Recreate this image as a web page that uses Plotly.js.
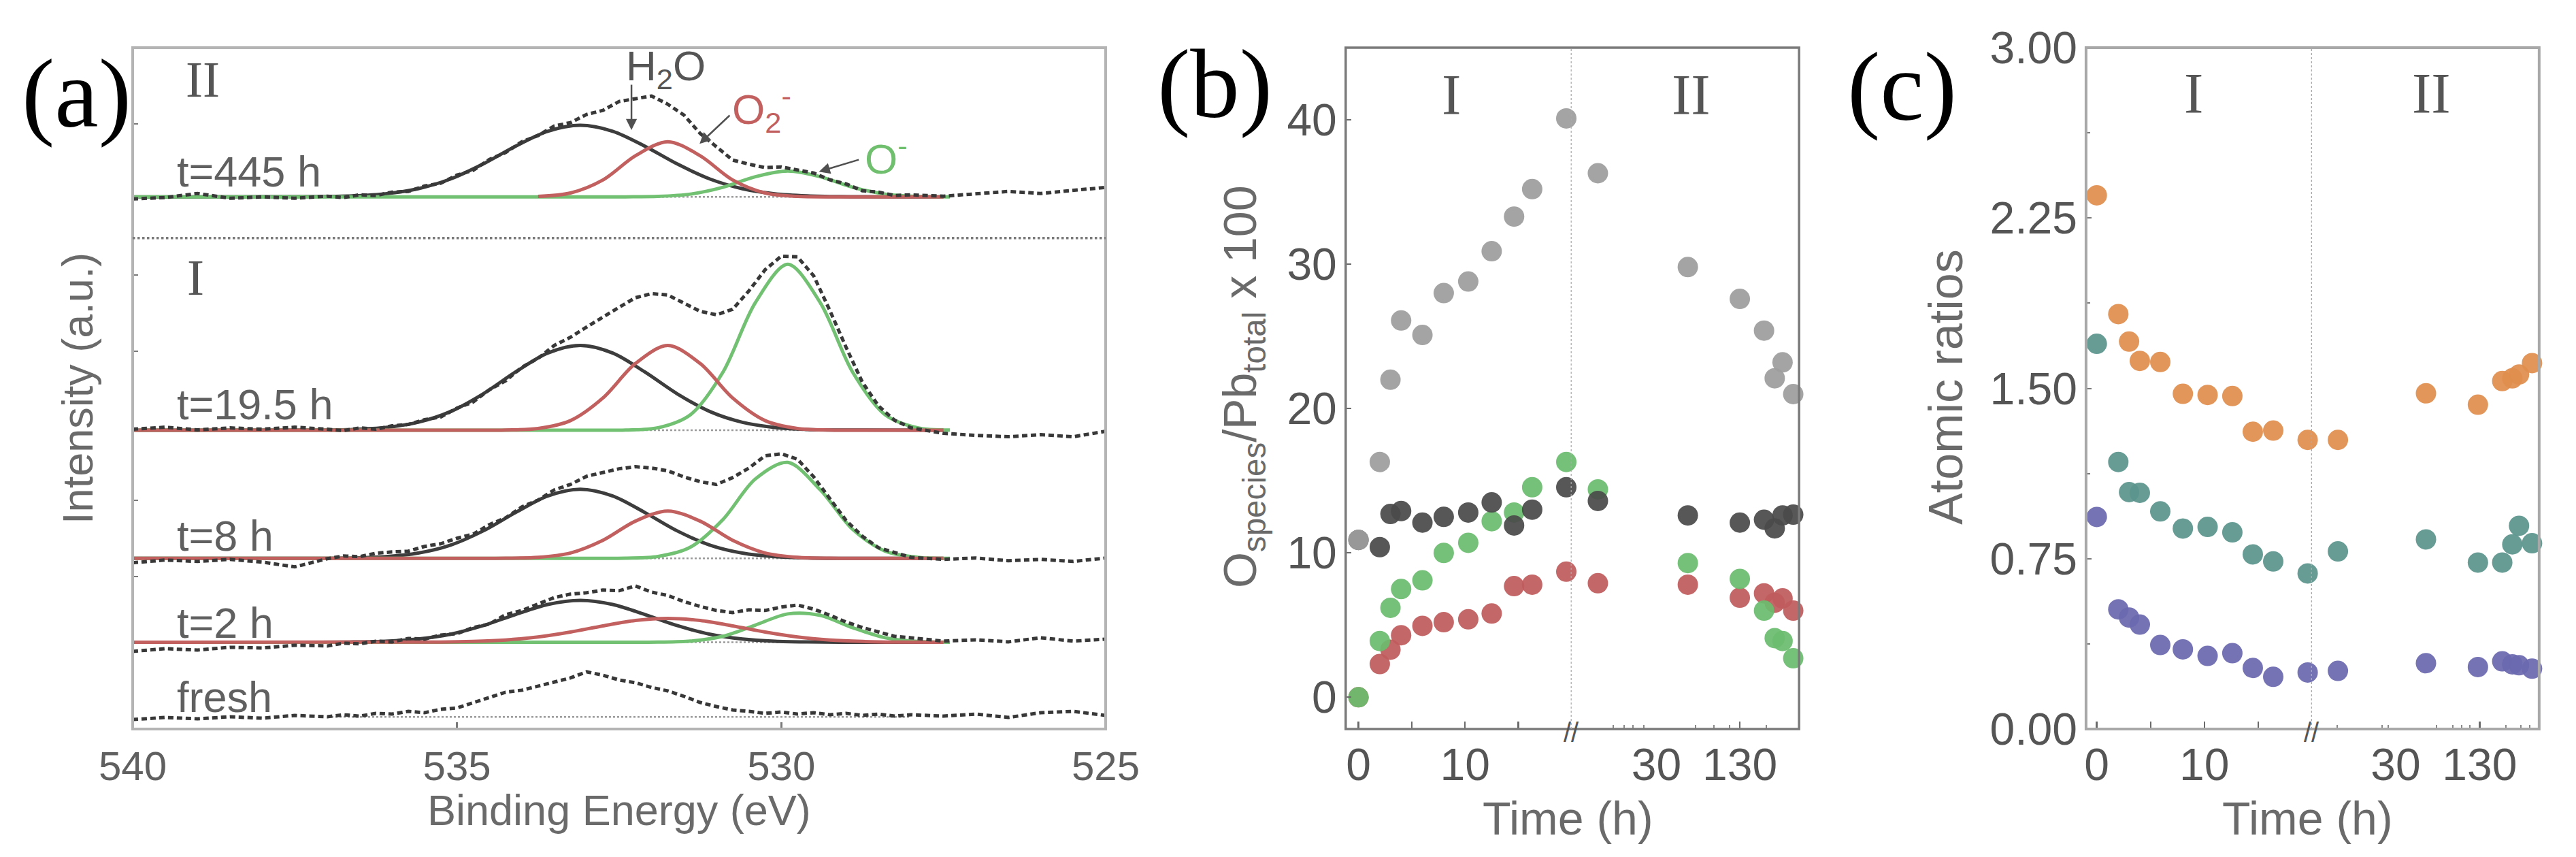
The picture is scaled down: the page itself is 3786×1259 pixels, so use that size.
<!DOCTYPE html>
<html lang="en">
  <head>
    <meta charset="UTF-8" />
    <title>O 1s spectra and oxygen species ratios</title>
    <script src="https://cdn.plot.ly/plotly-3.0.1.min.js"></script>
    <style>
      html,
      body {
        margin: 0;
        padding: 0;
        background: #ffffff;
      }
      #chart {
        width: 3786px;
        height: 1259px;
      }
    </style>
  </head>
  <body>
    <div id="chart"></div>

    <script>
      const SANS = '"Liberation Sans", Arial, sans-serif';
      const SERIF = '"Liberation Serif", "Times New Roman", serif';

      // ---- (a) O 1s spectra, stacked with an offset (a.u.) ----
      const E_DATA = [
        540, 539.5, 539, 538.5, 538, 537.5,
        537, 536.75, 536.5, 536.25, 536, 535.75, 535.5, 535.25, 535, 534.75,
        534.5, 534.25, 534, 533.75, 533.5, 533.25, 533, 532.75, 532.5, 532.25,
        532, 531.75, 531.5, 531.25, 531, 530.75, 530.5, 530.25, 530, 529.75,
        529.5, 529.25, 529, 528.75, 528.5, 528.25, 528,
        527.5, 527, 526.5, 526, 525.5, 525,
      ];
      const DATA_FRESH = [
        1.4, 1.7, 1.5, 1.8, 1.6, 2.0,
        1.8, 2.1, 1.9, 2.3, 2.2, 2.6, 2.4, 2.9, 3.1, 3.9, 4.7, 5.4, 5.7, 6.3,
        6.8, 7.5, 8.4, 7.9, 7.2, 6.8, 6.1, 5.6, 4.8, 3.9, 3.3, 2.8, 2.6, 2.3,
        2.5, 2.2, 2.4, 2.1, 2.3, 2.0, 2.2, 1.9, 2.1,
        1.9, 2.2, 1.7, 2.4, 2.6, 2.0,
      ];
      const DATA_2H = [
        11.4, 11.8, 11.6, 12.0, 11.9, 12.3,
        12.2, 12.6, 12.5, 12.9, 12.8, 13.3, 13.2, 13.8, 14.0, 14.9, 15.4, 16.8,
        17.4, 18.4, 19.3, 19.8, 20.0, 20.4, 20.3, 21.0, 20.1, 19.6, 18.7, 18.0,
        17.4, 17.1, 17.5, 17.4, 17.9, 18.2, 17.6, 16.7, 15.7, 14.9, 14.3, 13.6,
        13.4,
        12.9, 13.1, 12.8, 13.4, 12.9, 13.2,
      ];
      const DATA_8H = [
        24.4, 24.8, 24.6, 24.9, 24.5, 23.8,
        25.0, 25.4, 25.3, 25.8, 26.0, 26.1, 26.8, 27.2, 28.0, 28.6, 30.0, 31.0,
        32.6, 33.6, 35.1, 35.9, 37.1, 37.6, 38.2, 38.5, 38.3, 37.9, 37.0, 36.3,
        35.9, 36.9, 38.3, 40.1, 40.4, 39.6, 37.0, 33.8, 30.6, 28.3, 26.6, 25.9,
        25.2,
        24.9, 25.1, 24.7, 24.9, 24.6, 25.1,
      ];
      const DATA_19H = [
        44.0, 44.3, 43.9, 44.2, 44.0, 44.3,
        44.0, 43.8, 44.2, 44.0, 44.5, 44.7, 45.4, 45.8, 47.1, 48.0, 49.8, 51.1,
        53.1, 54.4, 56.3, 57.5, 59.0, 60.5, 61.9, 63.3, 63.9, 63.7, 62.5, 61.3,
        60.8, 61.6, 64.3, 67.4, 69.4, 69.3, 66.5, 61.4, 56.0, 50.9, 47.4, 45.3,
        44.2,
        43.4, 43.1, 42.9, 43.2, 42.9, 43.7,
      ];
      const DATA_445H = [
        77.8, 78.0, 78.6, 77.9, 78.1, 77.9,
        78.2, 78.0, 78.4, 78.3, 78.8, 78.9, 79.7, 80.1, 81.3, 82.0, 83.6, 84.6,
        86.2, 87.1, 88.5, 89.0, 90.2, 90.8, 92.1, 92.5, 92.9, 91.7, 90.1, 87.4,
        85.4, 83.5, 82.9, 82.4, 82.5, 82.0, 81.6, 80.6, 80.0, 79.0, 78.8, 78.3,
        78.4,
        78.2, 78.5, 78.9, 78.6, 79.0, 79.5,
      ];
      const BASELINE = [1.77, 12.74, 25.05, 43.85, 78.1];

      // fitted components: H2O (black), O2- (red), O- (green)
      const E_H2O = [
        540, 537.1, 536.6, 536.1, 535.6, 535.1, 534.6, 534.1, 533.6, 533.1,
        532.6, 532.1, 531.6, 531.1, 530.6, 530.1, 529.6, 529.1, 527.5,
      ];
      const H2O_2H = [
        12.74, 12.75, 12.78, 12.89, 13.21, 13.92, 15.17, 16.81, 18.29, 18.89,
        18.29, 16.81, 15.17, 13.92, 13.21, 12.89, 12.78, 12.75, 12.74,
      ];
      const H2O_8H = [
        25.05, 25.06, 25.11, 25.3, 25.82, 26.99, 29.06, 31.76, 34.21, 35.2,
        34.21, 31.76, 29.06, 26.99, 25.82, 25.3, 25.11, 25.06, 25.05,
      ];
      const H2O_19H = [
        43.85, 43.88, 43.97, 44.26, 45.02, 46.59, 49.17, 52.38, 55.18, 56.3,
        55.18, 52.38, 49.17, 46.59, 45.02, 44.26, 43.97, 43.88, 43.85,
      ];
      const H2O_445H = [
        78.1, 78.14, 78.25, 78.56, 79.3, 80.72, 82.91, 85.52, 87.73, 88.6,
        87.73, 85.52, 82.91, 80.72, 79.3, 78.56, 78.25, 78.14, 78.1,
      ];
      const E_O2 = [
        540, 535.25, 534.75, 534.25, 533.75, 533.25, 532.75, 532.25, 531.75,
        531.25, 530.75, 530.25, 529.75, 529.25, 528.75, 528.25, 527.5,
      ];
      const O2_2H = [
        12.74, 12.77, 12.86, 13.07, 13.51, 14.24, 15.14, 15.93, 16.24, 15.93,
        15.14, 14.24, 13.51, 13.07, 12.86, 12.77, 12.74,
      ];
      const O2_8H = [
        25.05, 25.05, 25.05, 25.07, 25.2, 25.84, 27.7, 30.51, 32.0, 30.51,
        27.7, 25.84, 25.2, 25.07, 25.05, 25.05, 25.05,
      ];
      const O2_19H = [
        43.85, 43.85, 43.85, 43.88, 44.11, 45.27, 48.59, 53.64, 56.3, 53.64,
        48.59, 45.27, 44.11, 43.88, 43.85, 43.85, 43.85,
      ];
      const O2_445H = [
        null, null, null, null, 78.17, 78.67, 80.58, 84.13, 86.2, 84.13,
        80.58, 78.67, 78.17, 78.1, 78.1, 78.1, 78.1,
      ];
      const E_O = [
        540, 532.9, 532.4, 531.9, 531.4, 530.9, 530.4, 529.9, 529.4, 528.9,
        528.4, 527.9, 527.4,
      ];
      const O_2H = [
        12.74, 12.74, 12.74, 12.76, 12.91, 13.61, 15.26, 16.9, 16.68, 14.87,
        13.4, 12.86, 12.75,
      ];
      const O_8H = [
        25.05, 25.05, 25.08, 25.33, 26.7, 30.75, 36.7, 39.13, 35.11, 29.3,
        26.11, 25.21, 25.06,
      ];
      const O_19H = [
        43.85, 43.85, 43.88, 44.22, 46.14, 52.37, 62.58, 68.2, 62.58, 52.37,
        46.14, 44.22, 43.88,
      ];
      const O_445H = [
        78.1, 78.1, 78.11, 78.17, 78.51, 79.51, 81.06, 81.9, 81.06, 79.51,
        78.51, 78.17, 78.11,
      ];

      // ---- (b) O species / Pb total x 100 ----
      const TIME_B = [
        0, 2, 3, 4, 6, 8, 10.3, 12.5, 14.6, 16.3, 19.5, 23.1, 67.7, 130, 159,
        171.8, 181.2, 194,
      ];
      const OX_TOTAL = [
        10.9, 16.3, 22.0, 26.1, 25.1, 28.0, 28.8, 30.9, 33.3, 35.2, 40.1, 36.3,
        29.8, 27.6, 25.4, 22.1, 23.2, 21.0,
      ];
      const OX_H2O = [
        10.9, 10.4, 12.7, 12.9, 12.1, 12.5, 12.8, 13.5, 11.9, 13.0, 14.55, 13.6,
        12.6, 12.1, 12.3, 11.7, 12.6, 12.65,
      ];
      const OX_O = [
        0, 3.9, 6.2, 7.5, 8.1, 10.0, 10.7, 12.2, 12.8, 14.55, 16.3, 14.4, 9.3,
        8.2, 6.0, 4.1, 3.9, 2.7,
      ];
      const OX_O2 = [
        0, 2.3, 3.3, 4.3, 4.95, 5.2, 5.4, 5.8, 7.7, 7.8, 8.7, 7.9, 7.8, 6.9,
        7.2, 6.55, 6.85, 6.0,
      ];

      // ---- (c) atomic ratios ----
      const TIME_C = [
        0, 2, 3, 4, 5.9, 8, 10.3, 12.6, 14.5, 16.4, 19.6, 23.1, 66.1, 128, 157,
        169, 177, 192.5,
      ];
      const RATIO_ORANGE = [
        2.35, 1.827, 1.706, 1.621, 1.616, 1.476, 1.471, 1.466, 1.309, 1.314,
        1.273, 1.273, 1.478, 1.428, 1.532, 1.544, 1.561, 1.611,
      ];
      const RATIO_TEAL = [
        1.696, 1.176, 1.043, 1.04, 0.958, 0.883, 0.89, 0.866, 0.769, 0.738,
        0.685, 0.782, 0.835, 0.733, 0.733, 0.813, 0.895, 0.818,
      ];
      const RATIO_PURPLE = [
        0.934, 0.527, 0.491, 0.46, 0.37, 0.351, 0.322, 0.334, 0.269, 0.23,
        0.249, 0.256, 0.29, 0.273, 0.298, 0.285, 0.281, 0.266,
      ];

      // ---------------- traces ----------------
      const traces = [];

      const spectra = [
        { data: DATA_FRESH },
        { data: DATA_2H, h2o: H2O_2H, o2: O2_2H, o: O_2H },
        { data: DATA_8H, h2o: H2O_8H, o2: O2_8H, o: O_8H },
        { data: DATA_19H, h2o: H2O_19H, o2: O2_19H, o: O_19H },
        { data: DATA_445H, h2o: H2O_445H, o2: O2_445H, o: O_445H },
      ];

      function line(x, y, lineStyle) {
        return {
          type: "scatter",
          mode: "lines",
          x: x,
          y: y,
          xaxis: "x",
          yaxis: "y",
          hoverinfo: "skip",
          showlegend: false,
          line: lineStyle,
        };
      }

      BASELINE.forEach((b) => {
        traces.push(line([537, 528], [b, b], { color: "#9a9a9a", width: 2.5, dash: "dot" }));
      });

      spectra.forEach((s) => {
        if (s.h2o) {
          traces.push(line(E_H2O, s.h2o, { color: "#3d3d3d", width: 5, shape: "spline", smoothing: 0.9 }));
          traces.push(line(E_O, s.o, { color: "#72c173", width: 5, shape: "spline", smoothing: 0.9 }));
          traces.push(line(E_O2, s.o2, { color: "#c2605f", width: 5, shape: "spline", smoothing: 0.9 }));
        }
        traces.push(line(E_DATA, s.data, { color: "#383838", width: 5, dash: "8px,5px" }));
      });

      // broken time axis: three segments per panel
      const SEGMENTS = [
        [-Infinity, 20],
        [20, 30],
        [30, Infinity],
      ];
      function markers(times, vals, color, xaxes, yaxis) {
        SEGMENTS.forEach((seg, i) => {
          const idx = times
            .map((t, j) => j)
            .filter((j) => times[j] > seg[0] && times[j] <= seg[1]);
          traces.push({
            type: "scatter",
            mode: "markers",
            x: idx.map((j) => times[j]),
            y: idx.map((j) => vals[j]),
            xaxis: xaxes[i],
            yaxis: yaxis,
            cliponaxis: false,
            hoverinfo: "skip",
            showlegend: false,
            marker: { size: 30, color: color, opacity: 0.93 },
          });
        });
      }

      const B_AXES = ["x2", "x3", "x4"];
      markers(TIME_B, OX_O2, "#c05b5d", B_AXES, "y2");
      markers(TIME_B, OX_O, "#6cbc6f", B_AXES, "y2");
      markers(TIME_B, OX_H2O, "#4a4a4a", B_AXES, "y2");
      markers(TIME_B, OX_TOTAL, "#9d9d9d", B_AXES, "y2");

      const C_AXES = ["x5", "x6", "x7"];
      markers(TIME_C, RATIO_PURPLE, "#6b68ae", C_AXES, "y3");
      markers(TIME_C, RATIO_TEAL, "#5b948d", C_AXES, "y3");
      markers(TIME_C, RATIO_ORANGE, "#e08e4d", C_AXES, "y3");

      // ---------------- layout ----------------
      const Y_DOM = [0.1493, 0.9444];
      const A_DOM = [0.0515, 0.4292];
      const B_DOM = [0.5224, 0.6101, 0.643, 0.6984];
      const C_DOM = [0.8098, 0.8975, 0.93, 0.9857];
      const TICKFONT = { family: SANS, size: 66, color: "#555555" };

      function segAxis(domain, range, tickvals, ticktext, minorvals, anchor) {
        return {
          domain: domain,
          range: range,
          anchor: anchor,
          tickmode: "array",
          tickvals: tickvals,
          ticktext: ticktext,
          ticks: "inside",
          ticklen: 11,
          tickwidth: 2.5,
          tickcolor: "#6a6a6a",
          minor: {
            tickmode: "array",
            tickvals: minorvals,
            ticks: "inside",
            ticklen: 6,
            tickwidth: 2,
            tickcolor: "#8a8a8a",
          },
          ticklabelstandoff: 8,
          tickfont: TICKFONT,
          showgrid: false,
          zeroline: false,
          showline: false,
        };
      }

      const layout = {
        width: 3786,
        height: 1259,
        margin: { l: 0, r: 0, t: 0, b: 0 },
        paper_bgcolor: "#ffffff",
        plot_bgcolor: "#ffffff",
        showlegend: false,
        xaxis: {
          domain: A_DOM,
          range: [540, 525],
          anchor: "y",
          tickmode: "array",
          tickvals: [540, 535, 530, 525],
          ticks: "inside",
          ticklen: 10,
          tickwidth: 2.5,
          tickcolor: "#7a7a7a",
          ticklabelstandoff: 14,
          tickfont: { family: SANS, size: 60, color: "#606060" },
          showgrid: false,
          zeroline: false,
          showline: false,
        },
        yaxis: {
          domain: Y_DOM,
          range: [0, 100],
          anchor: "x",
          tickmode: "array",
          tickvals: [22.4, 33.6, 55.4, 66.6, 88.8],
          ticks: "inside",
          ticklen: 8,
          tickwidth: 2,
          tickcolor: "#7a7a7a",
          showticklabels: false,
          showgrid: false,
          zeroline: false,
          showline: false,
        },
        xaxis2: segAxis([B_DOM[0], B_DOM[1]], [-1.2, 20], [0, 5, 10, 15], ["0", " ", "10", " "], [], "y2"),
        xaxis3: segAxis([B_DOM[1], B_DOM[2]], [20, 30], [30], ["30"], [24.9, 26.2, 27.2, 28.5], "y2"),
        xaxis4: segAxis([B_DOM[2], B_DOM[3]], [30, 201], [130], ["130"], [77, 99, 118, 162], "y2"),
        xaxis5: segAxis([C_DOM[0], C_DOM[1]], [-1.0, 20], [0, 5, 10, 15], ["0", " ", "10", " "], [], "y3"),
        xaxis6: segAxis([C_DOM[1], C_DOM[2]], [20, 30], [30], ["30"], [23, 28.4, 29.1], "y3"),
        xaxis7: segAxis([C_DOM[2], C_DOM[3]], [30, 201], [130], ["130"], [78.5, 98.4, 109, 118, 161, 179, 190], "y3"),
        yaxis2: {
          domain: Y_DOM,
          range: [-2.2, 45],
          anchor: "x2",
          tickmode: "array",
          tickvals: [0, 10, 20, 30, 40],
          ticks: "inside",
          ticklen: 8,
          tickwidth: 2,
          tickcolor: "#6a6a6a",
          ticklabelstandoff: 12,
          tickfont: TICKFONT,
          showgrid: false,
          zeroline: false,
          showline: false,
        },
        yaxis3: {
          domain: Y_DOM,
          range: [0, 3],
          anchor: "x5",
          tickmode: "array",
          tickvals: [0, 0.75, 1.5, 2.25, 3],
          ticktext: ["0.00", "0.75", "1.50", "2.25", "3.00"],
          ticks: "inside",
          ticklen: 8,
          tickwidth: 2,
          tickcolor: "#7a7a7a",
          minor: {
            tickmode: "array",
            tickvals: [0.375, 1.125, 1.875, 2.625],
            ticks: "inside",
            ticklen: 6,
            tickwidth: 2,
            tickcolor: "#7a7a7a",
          },
          ticklabelstandoff: 12,
          tickfont: TICKFONT,
          showgrid: false,
          zeroline: false,
          showline: false,
        },
        shapes: [
          // frames
          { type: "rect", xref: "paper", yref: "paper", x0: A_DOM[0], x1: A_DOM[1], y0: Y_DOM[0], y1: Y_DOM[1], line: { color: "#b4b4b4", width: 4 } },
          { type: "rect", xref: "paper", yref: "paper", x0: B_DOM[0], x1: B_DOM[3], y0: Y_DOM[0], y1: Y_DOM[1], line: { color: "#7a7a7a", width: 3.5 } },
          { type: "rect", xref: "paper", yref: "paper", x0: C_DOM[0], x1: C_DOM[3], y0: Y_DOM[0], y1: Y_DOM[1], line: { color: "#a8a8a8", width: 4 } },
          // I / II separator in (a)
          { type: "line", xref: "paper", yref: "y", x0: A_DOM[0], x1: A_DOM[1], y0: 72.05, y1: 72.05, line: { color: "#7a7a7a", width: 3.5, dash: "dot" } },
          // I / II separators in (b) and (c)
          { type: "line", xref: "x2", yref: "paper", x0: 20, x1: 20, y0: Y_DOM[0], y1: Y_DOM[1], line: { color: "#aaaaaa", width: 2.5, dash: "dot" } },
          { type: "line", xref: "x5", yref: "paper", x0: 20, x1: 20, y0: Y_DOM[0], y1: Y_DOM[1], line: { color: "#aaaaaa", width: 2.5, dash: "dot" } },
        ],
        annotations: [],
      };

      const ann = layout.annotations;
      function text(t, x, y, xref, yref, font, extra) {
        ann.push(
          Object.assign(
            {
              text: t,
              x: x,
              y: y,
              xref: xref,
              yref: yref,
              xanchor: "center",
              yanchor: "middle",
              showarrow: false,
              font: font,
            },
            extra || {}
          )
        );
      }
      function arrow(x, y, ax, ay) {
        ann.push({
          text: "",
          x: x,
          y: y,
          ax: ax,
          ay: ay,
          xref: "x",
          yref: "y",
          axref: "x",
          ayref: "y",
          showarrow: true,
          arrowhead: 2,
          arrowsize: 1.3,
          arrowwidth: 2.5,
          arrowcolor: "#505050",
        });
      }

      const PANEL = { family: SERIF, size: 145, color: "#000000" };
      text("(a)", 0.0296, 0.8912, "paper", "paper", PANEL);
      text("(b)", 0.4717, 0.9023, "paper", "paper", PANEL);
      text("(c)", 0.7383, 0.8991, "paper", "paper", PANEL);

      const ROMAN_A = { family: SERIF, size: 75, color: "#555555" };
      const ROMAN = { family: SERIF, size: 85, color: "#555555" };
      text("II", 538.92, 95.4, "x", "y", ROMAN_A);
      text("I", 539.03, 66.3, "x", "y", ROMAN_A);
      text("I", 8.7, 41.75, "x2", "y2", ROMAN);
      text("II", 72, 41.75, "x4", "y2", ROMAN);
      text("I", 9, 2.8, "x5", "y3", ROMAN);
      text("II", 72.7, 2.8, "x7", "y3", ROMAN);

      const TLAB = { family: SANS, size: 63, color: "#606060" };
      const labelY = [4.7, 15.6, 28.4, 47.7, 81.8];
      ["fresh", "t=2 h", "t=8 h", "t=19.5 h", "t=445 h"].forEach((t, i) => {
        text(t, 539.34, labelY[i], "x", "y", TLAB, { xanchor: "left" });
      });

      text("H<sub>2</sub>O", 531.78, 96.9, "x", "y", { family: SANS, size: 62, color: "#555555" });
      text("O<sub>2</sub><sup>-</sup>", 530.3, 91.0, "x", "y", { family: SANS, size: 62, color: "#c2605f" });
      text("O<sup>-</sup>", 528.38, 84.1, "x", "y", { family: SANS, size: 62, color: "#6fbf6f" });
      arrow(532.31, 87.9, 532.31, 94.7);
      arrow(531.26, 85.9, 530.78, 90.2);
      arrow(529.42, 81.8, 528.79, 83.6);

      // break marks on the time axes
      const BRK = { family: SANS, size: 40, color: "#555555" };
      text("//", 20, Y_DOM[0] - 0.004, "x2", "paper", BRK);
      text("//", 20, Y_DOM[0] - 0.004, "x5", "paper", BRK);

      const TITLE = { family: SANS, size: 63, color: "#6a6a6a" };
      const TITLE_BC = { family: SANS, size: 68, color: "#6a6a6a" };
      text("Intensity (a.u.)", 0.0301, 0.5473, "paper", "paper", TITLE, { textangle: -90 });
      text("Binding Energy (eV)", 0.2404, 0.0548, "paper", "paper", TITLE);
      text("O<sub>species</sub>/Pb<sub>total</sub> x 100", 0.4826, 0.5489, "paper", "paper", TITLE_BC, { textangle: -90 });
      text("Time (h)", 0.6086, 0.0453, "paper", "paper", TITLE_BC);
      text("Atomic ratios", 0.7554, 0.5489, "paper", "paper", { family: SANS, size: 70, color: "#6a6a6a" }, { textangle: -90 });
      text("Time (h)", 0.8959, 0.0453, "paper", "paper", TITLE_BC);

      Plotly.newPlot("chart", traces, layout, { displayModeBar: false, staticPlot: true });
    </script>
  </body>
</html>
